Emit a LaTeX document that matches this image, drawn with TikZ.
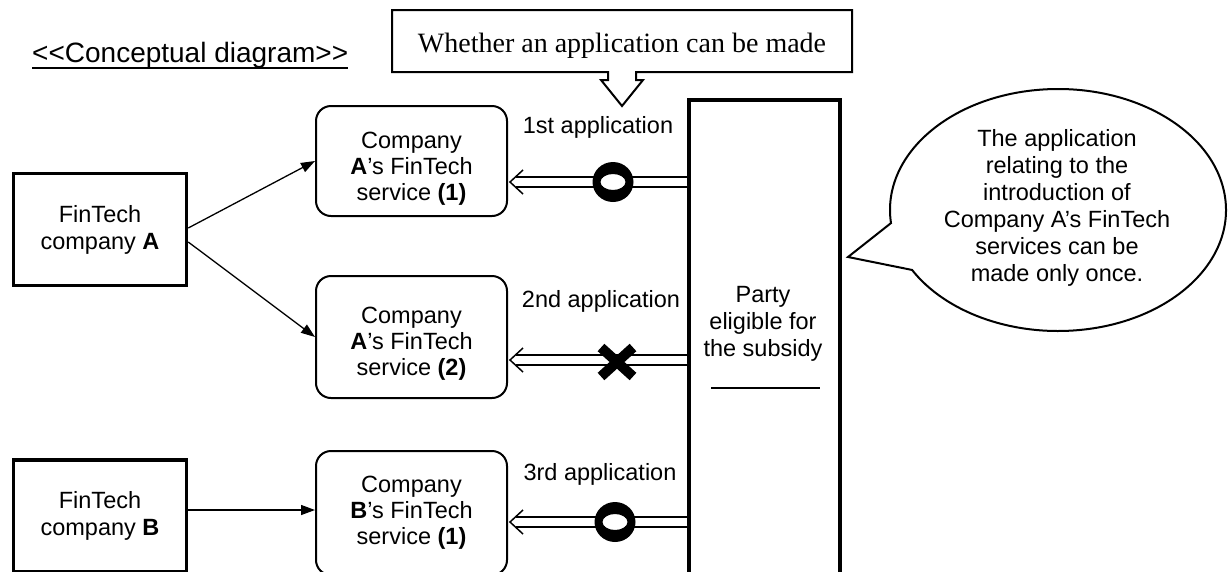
\documentclass[tikz,border=0pt]{standalone}
\usepackage{fontspec}
\setmainfont{Liberation Sans}
\newfontfamily\timesfont{Liberation Serif}
\usetikzlibrary{arrows.meta}
\begin{document}
\begin{tikzpicture}[x=1pt,y=-1pt,
  lab/.style={font=\fontsize{23.5}{27}\selectfont, inner sep=0pt, align=center},
  slab/.style={font=\fontsize{23.5}{26}\selectfont, inner sep=0pt, align=center},
  sqbox/.style={draw, line width=3.5pt, minimum width=173pt, minimum height=112pt, inner sep=0pt, align=center, font=\fontsize{23.5}{27}\selectfont},
  rbox/.style={draw, line width=2pt, rounded corners=15pt, minimum width=191pt, inner sep=0pt},
  tallbox/.style={draw, line width=3.5pt, minimum width=151pt, minimum height=520pt, inner sep=0pt},
  thinarrow/.style={line width=1.3pt, -{Triangle[length=14pt,width=10pt]}},
  dbl/.style={double, double distance=8.5pt, line width=1.5pt},
  chev/.style={line width=1.5pt, line join=miter},
]
\useasboundingbox (0,0) rectangle (1229,571);
\clip (0,0) rectangle (1229,571);

% title
\node[font=\fontsize{28}{30}\selectfont, inner sep=0pt, anchor=base west] (title) at (32,62) {<{}<Conceptual diagram>{}>};
\draw[line width=1.5pt] ([yshift=-6pt]title.base west) -- ([yshift=-6pt]title.base east);

% callout on top
\draw[line width=2pt, fill=white] (392,10) -- (852,10) -- (852,72) -- (636,72) -- (636,80) -- (643,80)
  -- (622,106) -- (601,80) -- (608,80) -- (608,72) -- (392,72) -- cycle;
\node[font=\timesfont\fontsize{28}{32}\selectfont, inner sep=0pt, anchor=base] (q) at (622,52) {Whether an application can be made};

% companies
\node[sqbox] (A) at (100,229.5) {FinTech\\company \textbf{A}};
\node[sqbox] (B) at (100,516) {FinTech\\company \textbf{B}};

% services
\node[rbox, minimum height=110pt] (S1) at (411.5,161) {};
\node[rbox, minimum height=122pt] (S2) at (411.5,337) {};
\node[rbox, minimum height=124pt] (S3) at (411.5,513) {};
\node[slab] (S1t) at (411.5,169) {Company\\\textbf{A}’s FinTech\\service \textbf{(1)}};
\node[slab] (S2t) at (411.5,344) {Company\\\textbf{A}’s FinTech\\service \textbf{(2)}};
\node[slab] (S3t) at (411.5,513) {Company\\\textbf{B}’s FinTech\\service \textbf{(1)}};

% arrows from companies
\draw[thinarrow] ([yshift=1.5pt]A.east) -- (S1.west);
\draw[thinarrow] ([yshift=-12.5pt]A.east) -- (S2.west);
\coordinate (yb) at (0,510);
\draw[thinarrow] (B.east |- yb) -- (S3.west |- yb);

% eligible party
\node[tallbox] (P) at (764.5,360) {};
\node[lab] (Pt) at (763,324) {Party\\eligible for\\the subsidy};
\draw[line width=1.5pt] (711,388) -- (820,388);

% application labels
\node[lab, anchor=base] (L1) at (598,133) {1st application};
\node[lab, anchor=base] (L2) at (601,307) {2nd application};
\node[lab, anchor=base] (L3) at (600,480) {3rd application};

% double arrows
\coordinate (y1) at (0,182);
\coordinate (y2) at (0,360);
\coordinate (y3) at (0,522);
\coordinate (h1) at ([xshift=2pt]S1.east |- y1);
\coordinate (h2) at ([xshift=2pt]S2.east |- y2);
\coordinate (h3) at ([xshift=2pt]S3.east |- y3);
\foreach \h in {h1,h2,h3}{
  \draw[dbl] (P.west |- \h) -- ([xshift=5.5pt]\h);
  \draw[chev] ([xshift=13pt,yshift=12pt]\h) -- (\h) -- ([xshift=13pt,yshift=-12pt]\h);
}

% marks
\fill[white] (613,182) ellipse [x radius=12.5, y radius=8];
\fill[even odd rule] (613,182) ellipse [x radius=20.5, y radius=20] (613,182) ellipse [x radius=12.5, y radius=8];
\fill[white] (615,522) ellipse [x radius=12.5, y radius=8];
\fill[even odd rule] (615,522) ellipse [x radius=20.5, y radius=20] (615,522) ellipse [x radius=12.5, y radius=8];
\draw[line width=10pt] (601,347.5) -- (633,376.5);
\draw[line width=10pt] (601,376.5) -- (633,347.5);

% speech bubble
\draw[line width=2pt, fill=white] (1058,210) ++(173.8:168 and 121)
  arc[start angle=173.8, end angle=510.3, x radius=168, y radius=121] -- (848,257) -- cycle;
\node[lab] (bt) at (1057,208.4) {The application\\relating to the\\introduction of\\Company A’s FinTech\\services can be\\made only once.};
\end{tikzpicture}
\end{document}
